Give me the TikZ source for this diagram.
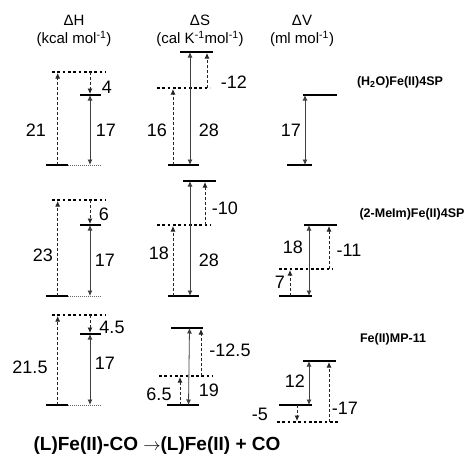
\documentclass[tikz,border=0pt]{standalone}
\usepackage{fontspec}
\setmainfont{Liberation Sans}
\usetikzlibrary{arrows.meta}
\begin{document}
\begin{tikzpicture}[x=1pt,y=-1pt,
  bar/.style={line width=2.7pt,black},
  dotlev/.style={line width=2.7pt,black,dash pattern=on 2.7pt off 2.6pt},
  thindot/.style={line width=0.7pt,black!60,dash pattern=on 1pt off 1pt},
  sarr/.style={line width=0.8pt,black!75,{Latex[length=5.5pt,width=5pt]}-{Latex[length=5.5pt,width=5pt]}},
  darr/.style={line width=0.8pt,black!85,dash pattern=on 3pt off 2pt,-{Latex[length=5.5pt,width=5pt]},shorten >=1pt},
  num/.style={inner sep=0pt,font=\fontsize{18}{20}\selectfont},
  head/.style={inner sep=0pt,align=center,font=\fontsize{15}{18}\selectfont},
  side/.style={inner sep=0pt,font=\fontsize{12.5}{14}\selectfont\bfseries},
  title/.style={inner sep=0pt,font=\fontsize{19}{22}\selectfont\bfseries}]
\useasboundingbox (0,0) rectangle (469,458);

% headers
\node[head] (hH1) at (74,20) {ΔH};
\node[head] (hH2) at (74,39) {(kcal mol\textsuperscript{-1})};
\node[head] (hS1) at (200,20) {ΔS};
\node[head] (hS2) at (200,39) {(cal K\textsuperscript{-1}mol\textsuperscript{-1})};
\node[head] (hV1) at (302,20) {ΔV};
\node[head] (hV2) at (302,39) {(ml mol\textsuperscript{-1})};

% ================= Row 1 =================
% H
\coordinate (h1t0) at (52,72);  \coordinate (h1t1) at (106,72);
\coordinate (h1m0) at (80,95);  \coordinate (h1m1) at (101,95);
\coordinate (h1b0) at (46,165); \coordinate (h1b1) at (68,165); \coordinate (h1b2) at (101,165);
\coordinate (h1aL0) at (57.7,165); \coordinate (h1aL1) at (57.7,72);
\coordinate (h1aR0) at (90,72);  \coordinate (h1aR1) at (90,95); \coordinate (h1aR2) at (90,165);
\draw[dotlev] (h1t0) -- (h1t1);
\draw[bar] (h1m0) -- (h1m1);
\draw[bar] (h1b0) -- (h1b1);
\draw[thindot] (h1b1) -- (h1b2);
\draw[darr] (h1aL0) -- (h1aL1);
\draw[darr] (h1aR0) -- (h1aR1);
\draw[sarr] (h1aR1) -- (h1aR2);
\node[num] (h1n4) at (107,87) {4};
\node[num] (h1n21) at (36,130) {21};
\node[num] (h1n17) at (106,130) {17};
% S
\coordinate (s1t0) at (180,52);  \coordinate (s1t1) at (213,52);
\coordinate (s1m0) at (157,88);  \coordinate (s1m1) at (210,88);
\coordinate (s1b0) at (168,165); \coordinate (s1b1) at (199,165);
\coordinate (s1aL0) at (173,165); \coordinate (s1aL1) at (173,88);
\coordinate (s1aC0) at (190,165); \coordinate (s1aC1) at (190,52);
\coordinate (s1aR0) at (207,88);  \coordinate (s1aR1) at (207,52);
\draw[bar] (s1t0) -- (s1t1);
\draw[dotlev] (s1m0) -- (s1m1);
\draw[bar] (s1b0) -- (s1b1);
\draw[darr] (s1aL0) -- (s1aL1);
\draw[sarr] (s1aC0) -- (s1aC1);
\draw[darr] (s1aR0) -- (s1aR1);
\node[num] (s1n12) at (234,82) {-12};
\node[num] (s1n16) at (157,130) {16};
\node[num] (s1n28) at (209,130) {28};
% V
\coordinate (v1t0) at (303,95);  \coordinate (v1t1) at (337,95);
\coordinate (v1b0) at (287,165); \coordinate (v1b1) at (312,165);
\coordinate (v1a0) at (305,95);  \coordinate (v1a1) at (305,165);
\draw[bar] (v1t0) -- (v1t1);
\draw[bar] (v1b0) -- (v1b1);
\draw[sarr] (v1a0) -- (v1a1);
\node[num] (v1n17) at (291,130) {17};
\node[side] (lab1) at (400,82) {(H\textsubscript{2}O)Fe(II)4SP};

% ================= Row 2 =================
% H
\coordinate (h2t0) at (52,200);  \coordinate (h2t1) at (106,200);
\coordinate (h2m0) at (80,225);  \coordinate (h2m1) at (101,225);
\coordinate (h2b0) at (46,296);  \coordinate (h2b1) at (68,296); \coordinate (h2b2) at (101,296);
\coordinate (h2aL0) at (57.7,296); \coordinate (h2aL1) at (57.7,200);
\coordinate (h2aR0) at (90,200); \coordinate (h2aR1) at (90,225); \coordinate (h2aR2) at (90,296);
\draw[dotlev] (h2t0) -- (h2t1);
\draw[bar] (h2m0) -- (h2m1);
\draw[bar] (h2b0) -- (h2b1);
\draw[thindot] (h2b1) -- (h2b2);
\draw[darr] (h2aL0) -- (h2aL1);
\draw[darr] (h2aR0) -- (h2aR1);
\draw[sarr] (h2aR1) -- (h2aR2);
\node[num] (h2n6) at (104,214) {6};
\node[num] (h2n23) at (43,255) {23};
\node[num] (h2n17) at (105,260) {17};
% S
\coordinate (s2t0) at (183,181);  \coordinate (s2t1) at (216,181);
\coordinate (s2m0) at (157,225);  \coordinate (s2m1) at (211,225);
\coordinate (s2b0) at (168,296);  \coordinate (s2b1) at (199,296);
\coordinate (s2aL0) at (173,296); \coordinate (s2aL1) at (173,225);
\coordinate (s2aC0) at (190,296); \coordinate (s2aC1) at (190,181);
\coordinate (s2aR0) at (205,225); \coordinate (s2aR1) at (205,181);
\draw[bar] (s2t0) -- (s2t1);
\draw[dotlev] (s2m0) -- (s2m1);
\draw[bar] (s2b0) -- (s2b1);
\draw[darr] (s2aL0) -- (s2aL1);
\draw[sarr] (s2aC0) -- (s2aC1);
\draw[darr] (s2aR0) -- (s2aR1);
\node[num] (s2n10) at (225,208) {-10};
\node[num] (s2n18) at (159,253) {18};
\node[num] (s2n28) at (209,260) {28};
% V
\coordinate (v2t0) at (304,225);  \coordinate (v2t1) at (337,225);
\coordinate (v2m0) at (279,269);  \coordinate (v2m1) at (333,269);
\coordinate (v2b0) at (279,296);  \coordinate (v2b1) at (312,296);
\coordinate (v2aC0) at (309,225); \coordinate (v2aC1) at (309,296);
\coordinate (v2aR0) at (329,269); \coordinate (v2aR1) at (329,225);
\coordinate (v2aL0) at (290,296); \coordinate (v2aL1) at (290,269);
\draw[bar] (v2t0) -- (v2t1);
\draw[dotlev] (v2m0) -- (v2m1);
\draw[bar] (v2b0) -- (v2b1);
\draw[sarr] (v2aC0) -- (v2aC1);
\draw[darr] (v2aR0) -- (v2aR1);
\draw[darr] (v2aL0) -- (v2aL1);
\node[num] (v2n18) at (293,247) {18};
\node[num] (v2n11) at (349,250) {-11};
\node[num] (v2n7) at (280,282) {7};
\node[side] (lab2) at (412,214) {(2-MeIm)Fe(II)4SP};

% ================= Row 3 =================
% H
\coordinate (h3t0) at (52,315);  \coordinate (h3t1) at (106,315);
\coordinate (h3m0) at (80,334);  \coordinate (h3m1) at (101,334);
\coordinate (h3b0) at (46,405);  \coordinate (h3b1) at (68,405); \coordinate (h3b2) at (101,405);
\coordinate (h3aL0) at (57.7,405); \coordinate (h3aL1) at (57.7,315);
\coordinate (h3aR0) at (90,315); \coordinate (h3aR1) at (90,334); \coordinate (h3aR2) at (90,405);
\draw[dotlev] (h3t0) -- (h3t1);
\draw[bar] (h3m0) -- (h3m1);
\draw[bar] (h3b0) -- (h3b1);
\draw[thindot] (h3b1) -- (h3b2);
\draw[darr] (h3aL0) -- (h3aL1);
\draw[darr] (h3aR0) -- (h3aR1);
\draw[sarr] (h3aR1) -- (h3aR2);
\node[num] (h3n45) at (112,327) {4.5};
\node[num] (h3n215) at (30,367) {21.5};
\node[num] (h3n17) at (105,363) {17};
% S
\coordinate (s3t0) at (171,328);  \coordinate (s3t1) at (203,328);
\coordinate (s3m0) at (159,376);  \coordinate (s3m1) at (213,376);
\coordinate (s3b0) at (167,405);  \coordinate (s3b1) at (199,405);
\coordinate (s3aL0) at (180,405); \coordinate (s3aL1) at (180,376);
\coordinate (s3aC0) at (188.5,405); \coordinate (s3aC1) at (189.5,328);
\coordinate (s3aR0) at (201,376); \coordinate (s3aR1) at (201,328);
\draw[bar] (s3t0) -- (s3t1);
\draw[dotlev] (s3m0) -- (s3m1);
\draw[bar] (s3b0) -- (s3b1);
\draw[darr] (s3aL0) -- (s3aL1);
\draw[sarr] (s3aC0) -- (s3aC1);
\draw[darr] (s3aR0) -- (s3aR1);
\node[num] (s3n125) at (230,350) {-12.5};
\node[num] (s3n65) at (159,394) {6.5};
\node[num] (s3n19) at (209,390) {19};
% V
\coordinate (v3t0) at (303,361);  \coordinate (v3t1) at (336,361);
\coordinate (v3m0) at (279,405);  \coordinate (v3m1) at (312,405);
\coordinate (v3b0) at (277,422);  \coordinate (v3b1) at (338,422);
\coordinate (v3aC0) at (309,361); \coordinate (v3aC1) at (309,405);
\coordinate (v3aL0) at (297,405); \coordinate (v3aL1) at (297,422);
\coordinate (v3aR0) at (329,422); \coordinate (v3aR1) at (329,361);
\draw[bar] (v3t0) -- (v3t1);
\draw[bar] (v3m0) -- (v3m1);
\draw[dotlev] (v3b0) -- (v3b1);
\draw[sarr] (v3aC0) -- (v3aC1);
\draw[darr] (v3aL0) -- (v3aL1);
\draw[darr] (v3aR0) -- (v3aR1);
\node[num] (v3n12) at (295,381) {12};
\node[num] (v3n5) at (260,414) {-5};
\node[num] (v3n17) at (345,408) {-17};
\node[side] (lab3) at (393,339) {Fe(II)MP-11};

% title
\node[title] (ttl) at (157,446) {(L)Fe(II)-CO $\rightarrow$(L)Fe(II) + CO};
\end{tikzpicture}
\end{document}
